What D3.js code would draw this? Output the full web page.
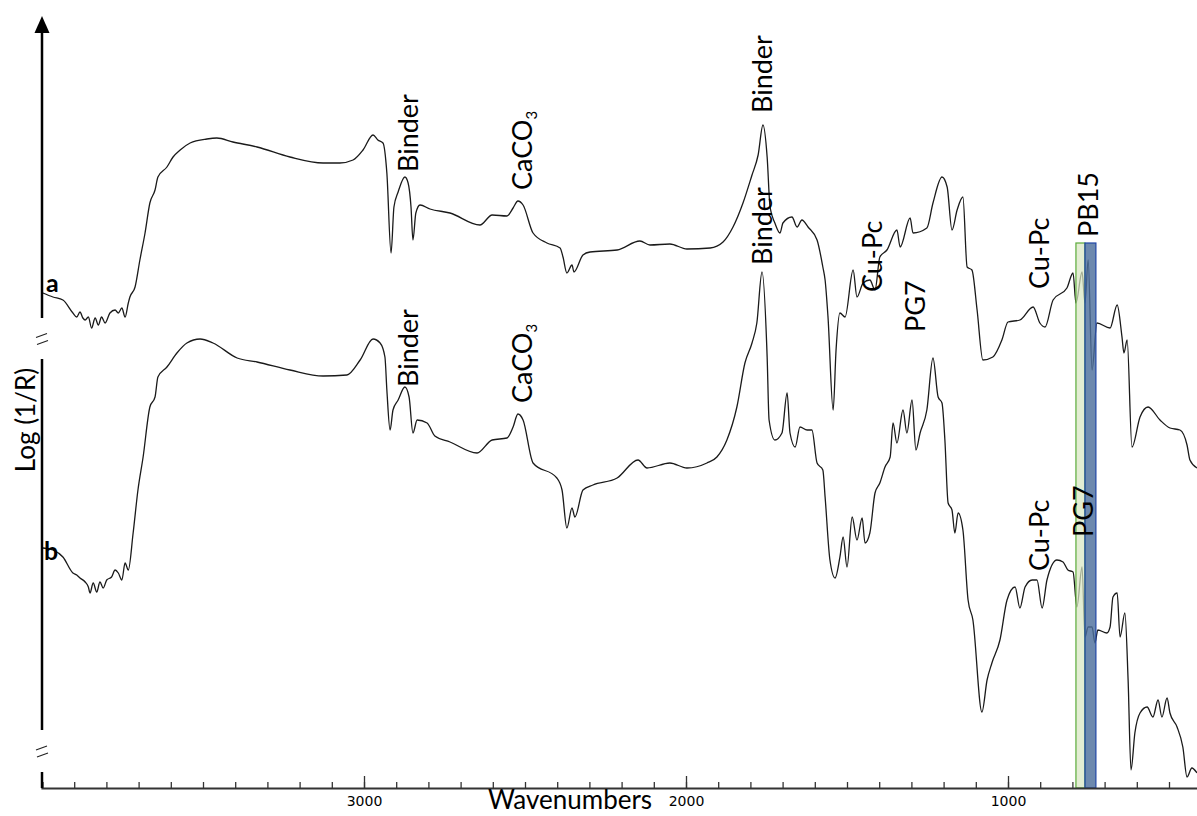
<!DOCTYPE html>
<html lang="en">
<head>
<meta charset="utf-8">
<script src="https://d3js.org/d3.v7.min.js"></script>
<title>FTIR spectra a / b</title>
<style>
  body { margin: 0; background: #fff; }
  text { font-family: Lato, "Open Sans", sans-serif; fill: #000; }
</style>
</head>
<body>
<div id="plot-div"></div>
<script>
const width = 1197
const height = 816

// spectrum a (top trace): wavenumbers (cm-1) and log(1/R), arbitrary units
const wnA = [3997, 3966, 3935, 3904, 3892, 3882, 3873, 3866, 3856, 3846, 3835, 3825, 3815, 3804, 3789, 3773, 3763, 3752, 3742, 3732, 3727,
  3711, 3696, 3680, 3665, 3649, 3640, 3612, 3593, 3571, 3540, 3488, 3457, 3407, 3332, 3230, 3127, 3075, 3034, 3003,
  2972, 2957, 2941, 2929, 2916, 2907, 2894, 2873, 2863, 2854, 2848, 2839, 2826, 2795, 2733, 2640, 2602, 2556, 2537,
  2522, 2506, 2475, 2432, 2391, 2382, 2370, 2354, 2348, 2320, 2298, 2214, 2143, 2112, 2050, 1997, 1925, 1885, 1854,
  1823, 1795, 1776, 1761, 1748, 1739, 1724, 1708, 1699, 1671, 1655, 1640, 1621, 1593, 1575, 1568, 1559, 1543, 1534,
  1522, 1506, 1481, 1469, 1450, 1429, 1413, 1398, 1376, 1345, 1335, 1304, 1295, 1252, 1233, 1205, 1189, 1174, 1158,
  1140, 1127, 1112, 1096, 1078, 1047, 1019, 1000, 963, 922, 901, 885, 860, 817, 798, 789, 770, 761, 751, 739, 724,
  683, 661, 646, 640, 630, 615, 590, 565, 528, 497, 466, 444, 435, 413]
const absA = [4.95, 4.91, 4.88, 4.75, 4.71, 4.76, 4.70, 4.68, 4.71, 4.60, 4.70, 4.63, 4.71, 4.65, 4.75, 4.78, 4.75, 4.80, 4.71, 4.85, 4.91,
  5.01, 5.28, 5.55, 5.85, 5.98, 6.11, 6.21, 6.31, 6.38, 6.45, 6.49, 6.50, 6.46, 6.41, 6.31, 6.25, 6.25, 6.28, 6.38,
  6.53, 6.48, 6.45, 6.15, 5.35, 5.81, 5.96, 6.11, 6.05, 5.81, 5.48, 5.75, 5.83, 5.79, 5.75, 5.63, 5.73, 5.72, 5.80,
  5.87, 5.83, 5.55, 5.45, 5.40, 5.31, 5.15, 5.23, 5.16, 5.33, 5.36, 5.38, 5.47, 5.43, 5.44, 5.39, 5.40, 5.46, 5.61,
  5.85, 6.13, 6.33, 6.63, 6.31, 5.81, 5.65, 5.55, 5.65, 5.71, 5.61, 5.68, 5.61, 5.48, 5.21, 5.08, 4.71, 3.78, 4.38,
  4.75, 4.71, 5.18, 4.91, 5.05, 5.08, 4.98, 5.31, 5.38, 5.58, 5.41, 5.70, 5.55, 5.60, 5.85, 6.11, 6.01, 5.58, 5.78,
  5.91, 5.21, 5.18, 4.78, 4.28, 4.31, 4.48, 4.66, 4.68, 4.81, 4.65, 4.61, 4.88, 5.00, 5.15, 4.85, 5.16, 4.85, 5.28, 4.18, 4.65,
  4.60, 4.83, 4.51, 4.35, 4.48, 3.41, 3.71, 3.81, 3.68, 3.60, 3.58, 3.43, 3.28, 3.20]

// spectrum b (bottom trace)
const wnB = [3997, 3966, 3935, 3904, 3892, 3882, 3866, 3856, 3851, 3841, 3830, 3820, 3810, 3799, 3784, 3773, 3763, 3752, 3742, 3732,
  3717, 3702, 3686, 3665, 3649, 3640, 3612, 3581, 3550, 3509, 3469, 3394, 3332, 3230, 3127, 3053, 3012, 2972, 2950,
  2935, 2929, 2919, 2910, 2894, 2873, 2860, 2848, 2835, 2804, 2780, 2733, 2649, 2602, 2556, 2537, 2522, 2506, 2475,
  2401, 2385, 2370, 2354, 2345, 2320, 2289, 2214, 2149, 2121, 2050, 1997, 1935, 1904, 1873, 1842, 1817, 1795, 1780,
  1764, 1748, 1742, 1724, 1702, 1686, 1677, 1661, 1646, 1624, 1609, 1593, 1575, 1568, 1553, 1537, 1522, 1512, 1500,
  1484, 1469, 1453, 1444, 1429, 1413, 1398, 1382, 1366, 1357, 1345, 1326, 1314, 1298, 1286, 1273, 1252, 1233, 1217,
  1205, 1196, 1186, 1174, 1165, 1155, 1140, 1124, 1109, 1081, 1065, 1050, 1025, 1003, 978, 963, 947, 925, 910, 894,
  879, 848, 829, 814, 798, 786, 770, 761, 751, 739, 730, 721, 693, 683, 674, 661, 652, 637, 627, 618, 606, 590, 568,
  550, 534, 522, 506, 497, 475, 457, 444, 429, 413]
const absB = [2.40, 2.38, 2.31, 2.15, 2.13, 2.10, 2.06, 2.01, 1.95, 2.05, 1.96, 2.06, 2.00, 2.08, 2.11, 2.18, 2.15, 2.08, 2.25, 2.18,
  2.55, 2.98, 3.31, 3.81, 3.91, 4.11, 4.21, 4.35, 4.45, 4.49, 4.45, 4.30, 4.26, 4.18, 4.12, 4.13, 4.28, 4.49, 4.45,
  4.31, 3.98, 3.58, 3.78, 3.88, 4.01, 3.91, 3.55, 3.68, 3.65, 3.52, 3.46, 3.35, 3.48, 3.50, 3.61, 3.74, 3.68, 3.25,
  3.10, 2.98, 2.60, 2.80, 2.71, 2.98, 3.03, 3.10, 3.28, 3.20, 3.25, 3.20, 3.25, 3.31, 3.48, 3.81, 4.25, 4.45, 4.65,
  5.16, 4.31, 3.68, 3.48, 3.55, 3.95, 3.55, 3.41, 3.61, 3.58, 3.58, 3.25, 3.18, 2.91, 2.28, 2.10, 2.31, 2.51, 2.21,
  2.71, 2.48, 2.70, 2.45, 2.55, 2.95, 3.05, 3.21, 3.31, 3.65, 3.45, 3.78, 3.55, 3.88, 3.38, 3.55, 3.78, 4.30, 3.91,
  3.85, 3.48, 2.85, 2.78, 2.55, 2.75, 2.58, 1.88, 1.68, 0.76, 1.08, 1.25, 1.48, 1.88, 2.01, 1.80, 2.01, 2.08, 2.08, 1.80,
  2.08, 2.28, 2.26, 2.18, 2.16, 1.81, 2.21, 1.51, 1.61, 1.61, 1.45, 1.58, 1.55, 1.61, 1.91, 1.95, 1.51, 1.75, 1.08, 0.18, 0.55, 0.75, 0.81,
  0.71, 0.88, 0.71, 0.90, 0.75, 0.61, 0.41, 0.11, 0.20, 0.15]

// peak assignments: label, wavenumber and height of the label start
const labelText = ['Binder', 'CaCO3', 'Binder', 'Binder', 'CaCO3', 'Binder', 'Cu-Pc', 'PG7', 'Cu-Pc', 'PB15', 'Cu-Pc', 'PG7']
const labelWn = [2832, 2478, 1733, 2832, 2478, 1733, 1391, 1258, 873, 720, 873, 736]
const labelVal = [6.16, 5.98, 6.75, 4.01, 3.85, 5.23, 4.96, 4.56, 4.99, 5.51, 2.17, 2.51]

// highlighted bands (cm-1)
const bandNames = ['PG7', 'PB15']
const bandFrom = [789, 761]
const bandTo = [761, 727]
const bandTop = 5.45

// x axis ticks
const majorTicks = [3000, 2000, 1000]
const minorTicks = d3.range(400, 4001, 100)

// y axis pieces between the breaks
const axisTop = 7.72
const axisBreaks = [[4.70, 4.29], [0.58, 0.16]]

let xScale = d3.scaleLinear()
  .domain([4000, 400])
  .range([42, 42 + 3600 * 0.322])

let yScale = d3.scaleLinear()
  .domain([0, 7.88])
  .range([788, 0])

var svg = d3.select('#plot-div')
  .append('svg')
  .attr('width', width)
  .attr('height', height)
  .attr('viewBox', [0, 0, width, height])

let line = d3.line()
  .x(d => xScale(d[0]))
  .y(d => yScale(d[1]))
  .curve(d3.curveMonotoneX)

let spectra = [d3.zip(wnA, absA), d3.zip(wnB, absB)]

svg.append('g')
  .selectAll('path')
  .data(spectra)
  .join('path')
  .attr('d', line)
  .attr('fill', 'none')
  .attr('stroke', '#1a1a1a')
  .attr('stroke-width', 1.3)
  .attr('stroke-linejoin', 'round')

// coloured bands sit over the traces
let bandFill = ['#d8e6c2', '#4d6f9c']
let bandStroke = ['#5cab3a', '#2046a6']
svg.append('g')
  .selectAll('rect')
  .data(bandNames)
  .join('rect')
  .attr('x', (d, i) => xScale(bandFrom[i]))
  .attr('width', (d, i) => xScale(bandTo[i]) - xScale(bandFrom[i]))
  .attr('y', yScale(bandTop))
  .attr('height', yScale(0) - yScale(bandTop))
  .attr('fill', (d, i) => bandFill[i])
  .attr('fill-opacity', (d, i) => i ? 0.82 : 0.72)
  .attr('stroke', (d, i) => bandStroke[i])
  .attr('stroke-width', 1.2)

// x axis: minor ticks, then labelled major ticks, both pointing up
svg.append('g')
  .attr('transform', `translate(0,${yScale(0)})`)
  .call(d3.axisBottom(xScale).tickValues(minorTicks).tickSize(-6).tickFormat(''))
  .call(g => g.selectAll('line').attr('stroke', '#333').attr('stroke-width', 1.3))
  .call(g => g.select('.domain').attr('stroke', '#333').attr('stroke-width', 2.2))

svg.append('g')
  .attr('transform', `translate(0,${yScale(0)})`)
  .call(d3.axisBottom(xScale).tickValues(majorTicks).tickSize(-12).tickPadding(8).tickFormat(d3.format('d')))
  .call(g => g.select('.domain').remove())
  .call(g => g.selectAll('line').attr('stroke', '#333').attr('stroke-width', 1.3))
  .call(g => g.selectAll('text')
    .style('font-family', '"DejaVu Sans", sans-serif')
    .attr('font-size', 14)
    .attr('fill', '#111'))

svg.append('text')
  .attr('x', 570)
  .attr('y', 809)
  .attr('text-anchor', 'middle')
  .attr('font-size', 26)
  .text('Wavenumbers')

// y axis with the two break marks and an arrow on top
let x0 = xScale(4000)
let yStops = [axisTop - 0.16].concat(axisBreaks.flat(), [0])
let segs = d3.range(0, yStops.length, 2).map(i => [yStops[i], yStops[i + 1]])
svg.append('g')
  .selectAll('line')
  .data(segs)
  .join('line')
  .attr('x1', x0).attr('x2', x0)
  .attr('y1', d => yScale(d[0]))
  .attr('y2', d => yScale(d[1]))
  .attr('stroke', '#000')
  .attr('stroke-width', 2.5)

svg.append('path')
  .attr('d', `M${x0},${yScale(axisTop)} L${x0 - 7.5},${yScale(axisTop) + 17} L${x0 + 7.5},${yScale(axisTop) + 17} Z`)
  .attr('fill', '#000')

let breakMid = axisBreaks.map(b => (b[0] + b[1]) / 2)
svg.append('g')
  .selectAll('path')
  .data(breakMid)
  .join('path')
  .attr('d', d => {
    let cy = yScale(d)
    return `M${x0 - 6},${cy - 1} L${x0 + 5},${cy - 5} M${x0 - 5},${cy + 6} L${x0 + 6},${cy + 2}`
  })
  .attr('stroke', '#222')
  .attr('stroke-width', 1.2)
  .attr('fill', 'none')

svg.append('text')
  .attr('transform', `translate(35,${yScale(3.68)}) rotate(-90)`)
  .attr('text-anchor', 'middle')
  .attr('font-size', 26)
  .text('Log (1/R)')

// trace letters
svg.append('text').attr('x', 46).attr('y', yScale(absA[0]) - 1)
  .attr('font-size', 25).attr('font-weight', 'bold').text('a')
svg.append('text').attr('x', 44).attr('y', yScale(absB[0]) + 12)
  .attr('font-size', 25).attr('font-weight', 'bold').text('b')

// peak labels, written bottom to top
svg.append('g')
  .selectAll('text')
  .data(labelText)
  .join('text')
  .attr('transform', (d, i) => `translate(${xScale(labelWn[i])},${yScale(labelVal[i])}) rotate(-90)`)
  .attr('font-size', 27)
  .each(function (d) {
    let m = d.match(/^(CaCO)(3)$/)
    let t = d3.select(this)
    if (m) {
      t.append('tspan').text(m[1])
      t.append('tspan').attr('dy', 5).attr('font-size', 15).text(m[2])
    } else {
      t.text(d)
    }
  })
</script>
</body>
</html>
